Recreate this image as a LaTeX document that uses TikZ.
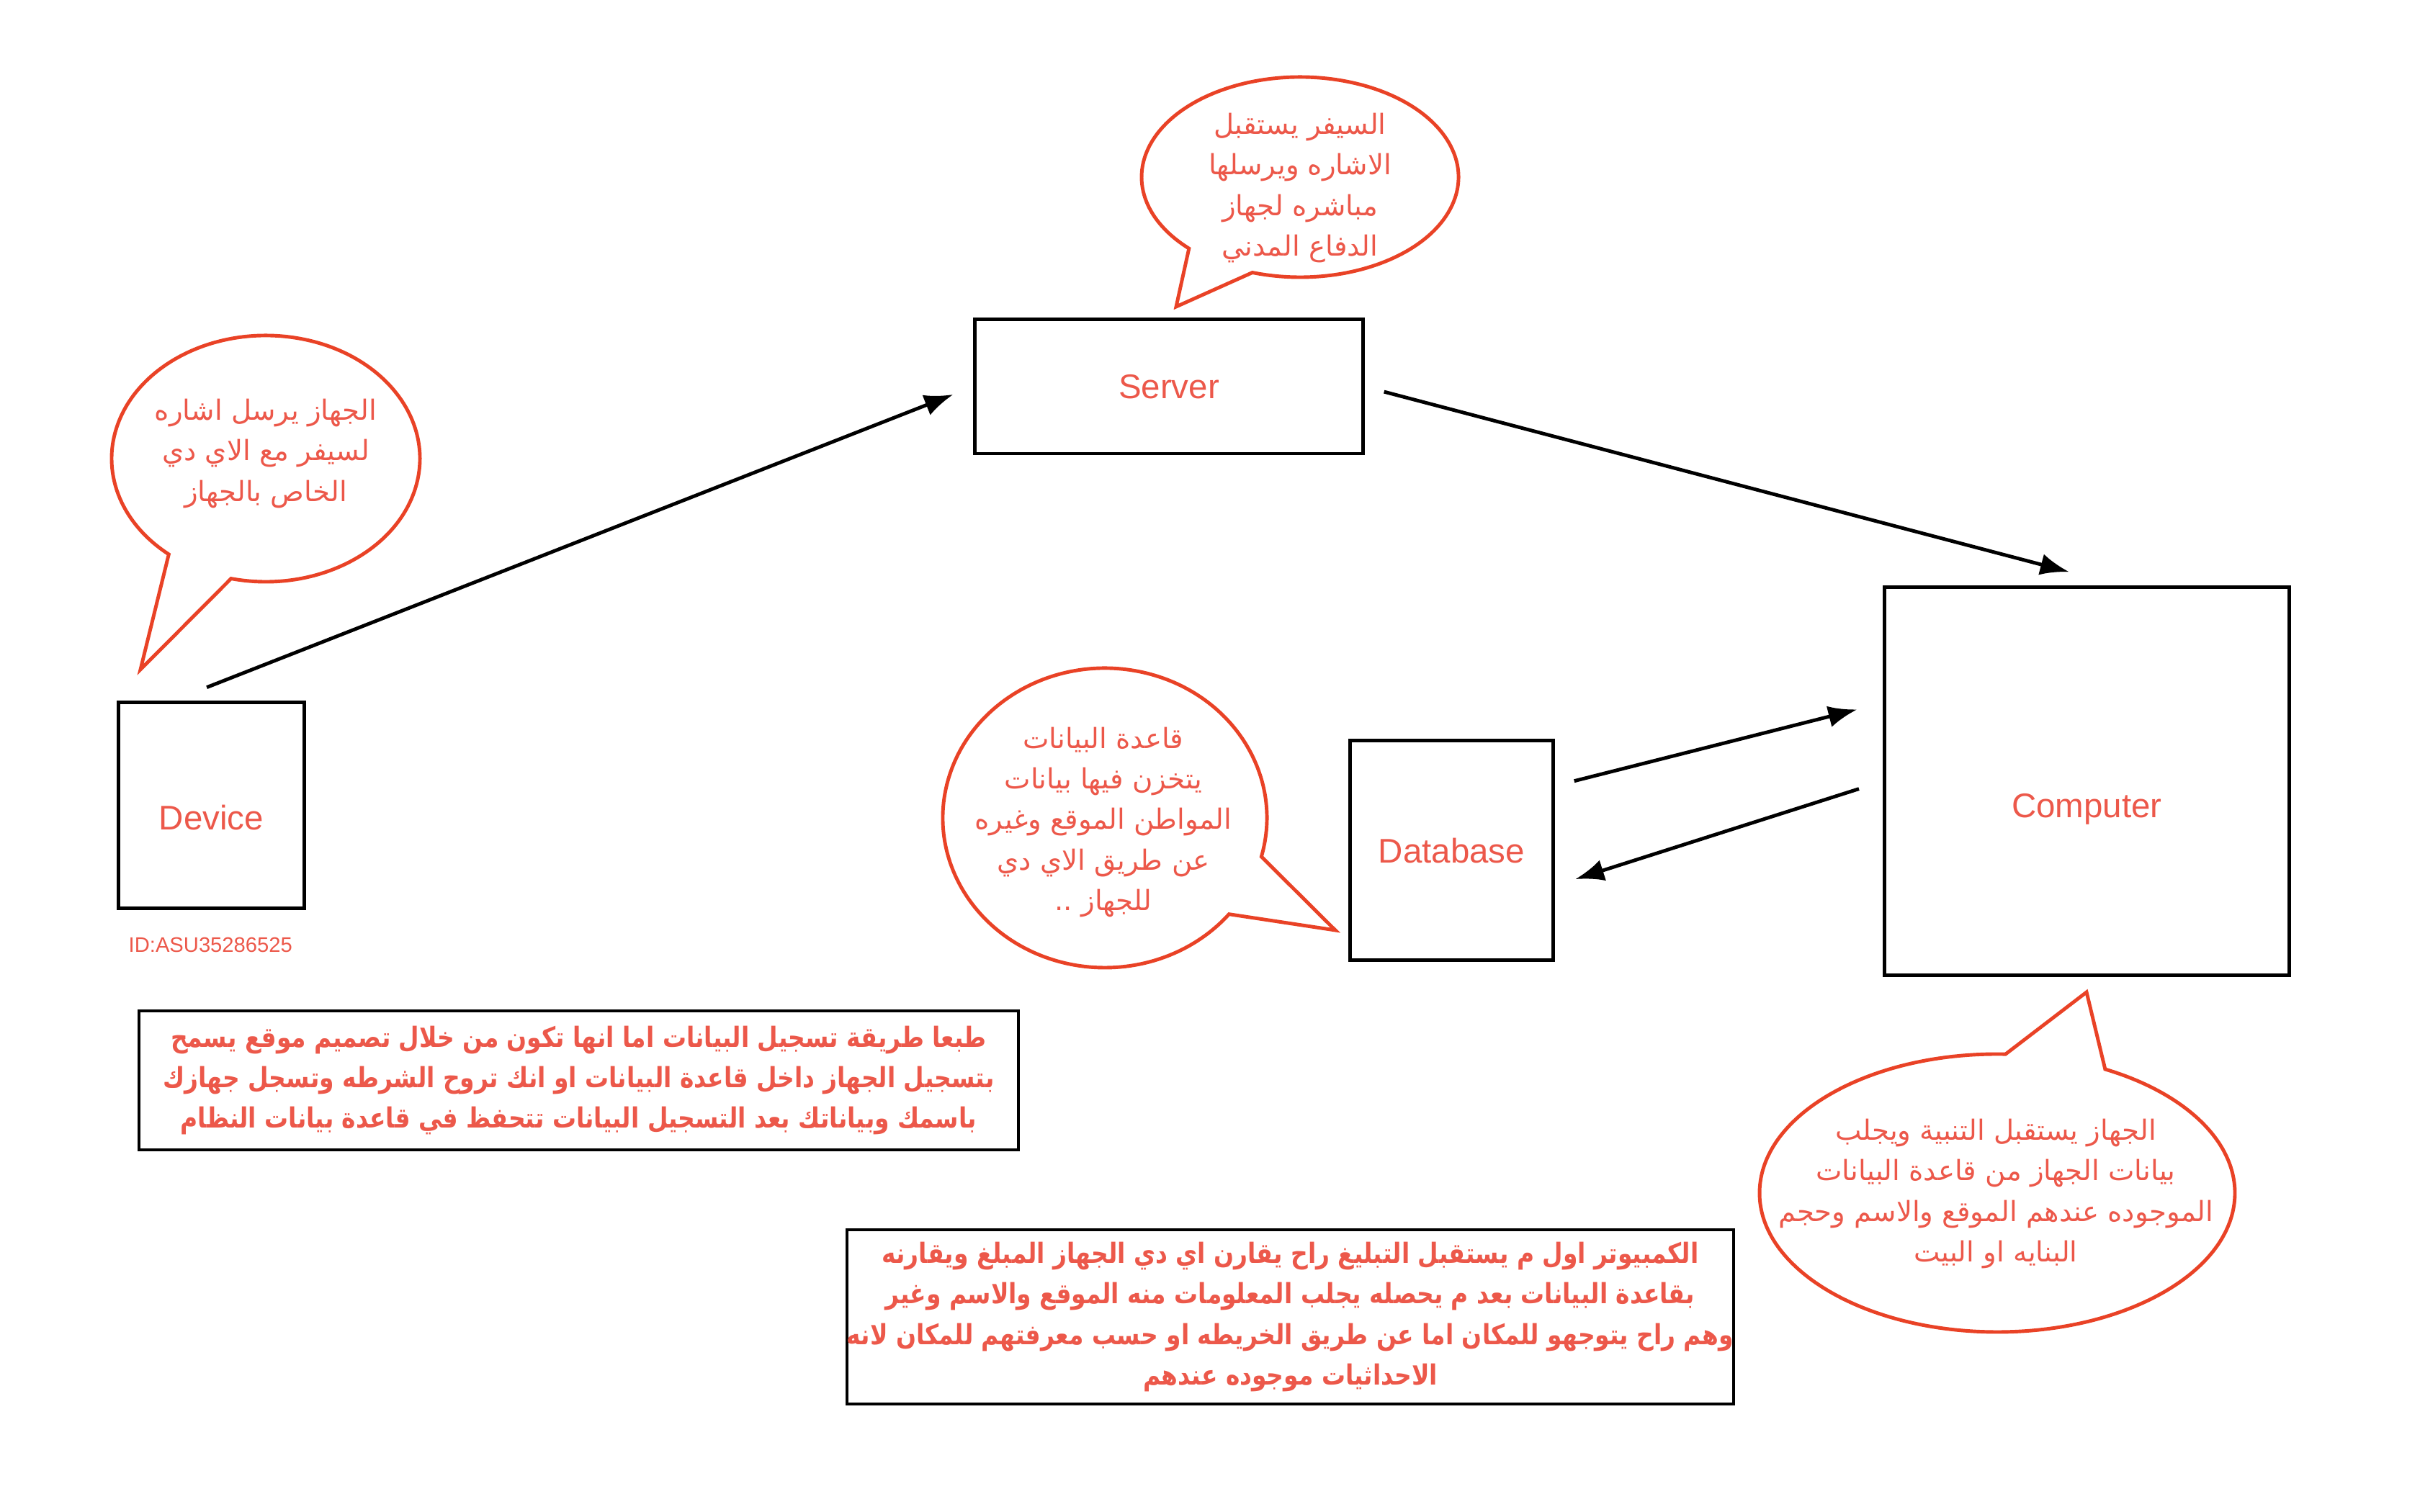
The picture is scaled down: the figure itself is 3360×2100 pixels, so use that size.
\documentclass[tikz,border=0pt]{standalone}
\usepackage{fontspec}
\setmainfont{Liberation Sans}
\newfontfamily\arabicfont[Script=Arabic]{DejaVu Sans}
\newfontfamily\arabicnote[Script=Arabic,FakeStretch=0.85]{DejaVu Sans}
\TeXXeTstate=1
\usetikzlibrary{arrows.meta}

\definecolor{labelred}{RGB}{236,88,74}
\definecolor{bubblered}{RGB}{233,66,38}
\newcommand{\arline}[1]{\beginR #1\endR}

\tikzset{
	block/.style={draw, line width=1.4pt, text=labelred, inner sep=0pt, text depth=0pt, font=\fontsize{13.5}{16}\selectfont},
	bubble/.style={draw=bubblered, line width=1.4pt, line join=miter},
	talk/.style={text=labelred, align=center, inner sep=0pt, font=\arabicfont\fontsize{11}{16}\selectfont},
	note/.style={draw, line width=1.2pt, text=labelred, align=center, inner sep=0pt, font=\arabicnote\bfseries\fontsize{11}{16}\selectfont},
	link/.style={line width=1.4pt, -{Latex[length=0.4cm,width=0.3cm]}}
}

\begin{document}
\begin{tikzpicture}[x=0.01cm, y=0.01cm]
	\useasboundingbox (0,0) rectangle (3360,2100);

	% boxes
	\node[block, minimum width=2.57cm, minimum height=2.86cm, text height=19.3pt] (device) at (293.5,981.5) {Device};
	\node[block, minimum width=5.38cm, minimum height=1.86cm] (server) at (1623,1563) {Server};
	\node[block, minimum width=5.61cm, minimum height=5.38cm, text height=29pt] (computer) at (2897.5,1015) {Computer};
	\node[block, minimum width=2.81cm, minimum height=3.04cm] (database) at (2015.5,919) {Database};
	\node[text=labelred, anchor=west, inner sep=0pt, font=\fontsize{8.3}{10}\selectfont] (devid) at (178,788) {ID:ASU35286525};

	% arrows
	\draw[link, shorten <=0.5cm, shorten >=0.3cm] (device.110) -- (server.west);
	\draw[link, shorten <=0.28cm, shorten >=0.75cm] (server.east) -- (computer.80);
	\draw[link, shorten <=0.28cm, shorten >=0.37cm] (database.32) -- (computer.159);
	\draw[link, shorten <=0.35cm, shorten >=0.3cm] (computer.180) -- (database.-19);

	% speech bubbles
	\draw[bubble] (369,1463) ++(-103:214 and 171) arc[start angle=-103, end angle=231, x radius=214, y radius=171] -- (195,1170) -- cycle;
	\node[talk] (devtalk) at (369,1470) {\arline{الجهاز يرسل اشاره}\\\arline{لسيفر مع الاي دي}\\\arline{الخاص بالجهاز}};

	\draw[bubble] (1805,1854) ++(-107.5:220 and 139) arc[start angle=-107.5, end angle=225.5, x radius=220, y radius=139] -- (1633,1674) -- cycle;
	\node[talk] (srvtalk) at (1805,1839) {\arline{السيفر يستقبل}\\\arline{الاشاره ويرسلها}\\\arline{مباشره لجهاز}\\\arline{الدفاع المدني}};

	\draw[bubble] (1534,964) ++(-15:225 and 208) arc[start angle=-15, end angle=320, x radius=225, y radius=208] -- (1854,808) -- cycle;
	\node[talk] (dbtalk) at (1532,958) {\arline{قاعدة البيانات}\\\arline{يتخزن فيها بيانات}\\\arline{المواطن الموقع وغيره}\\\arline{عن طريق الاي دي}\\\arline{للجهاز ..}};

	\draw[bubble] (2773,443) ++(88:330 and 193) arc[start angle=88, end angle=423, x radius=330, y radius=193] -- (2897,722) -- cycle;
	\node[talk] (comptalk) at (2771,442) {\arline{الجهاز يستقبل التنبية ويجلب}\\\arline{بيانات الجهاز من قاعدة البيانات}\\\arline{الموجوده عندهم الموقع والاسم وحجم}\\\arline{البنايه او البيت}};

	% notes
	\node[note, minimum width=12.21cm, minimum height=1.93cm] (regnote) at (803.5,599.5) {\arline{طبعا طريقة تسجيل البيانات اما انها تكون من خلال تصميم موقع يسمح}\\\arline{بتسجيل الجهاز داخل قاعدة البيانات او انك تروح الشرطه وتسجل جهازك}\\\arline{باسمك وبياناتك بعد التسجيل البيانات تتحفظ في قاعدة بيانات النظام}};
	\node[note, minimum width=12.21cm, minimum height=2.42cm] (compnote) at (1791.5,271) {\arline{الكمبيوتر اول م يستقبل التبليغ راح يقارن اي دي الجهاز المبلغ ويقارنه}\\\arline{بقاعدة البيانات بعد م يحصله يجلب المعلومات منه الموقع والاسم وغير}\\\arline{وهم راح يتوجهو للمكان اما عن طريق الخريطه او حسب معرفتهم للمكان لانه}\\\arline{الاحداثيات موجوده عندهم}};
\end{tikzpicture}
\end{document}
